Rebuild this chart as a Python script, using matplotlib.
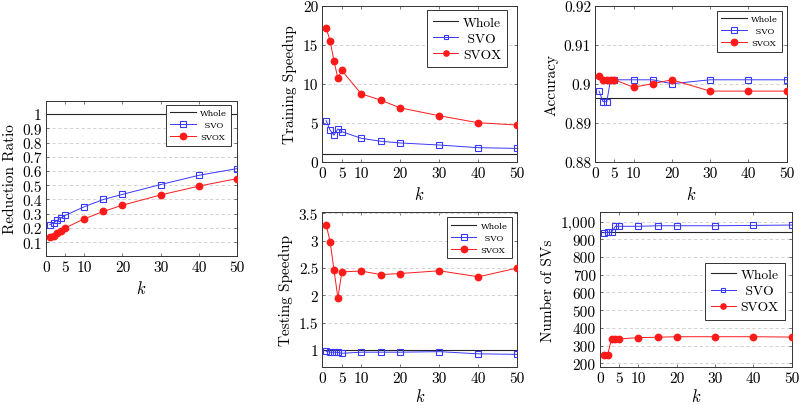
import matplotlib
matplotlib.use("Agg")
import matplotlib.pyplot as plt
from matplotlib.ticker import FixedLocator, FuncFormatter
from matplotlib.lines import Line2D

plt.rcParams['font.family'] = ['cmr10', 'DejaVu Serif']
plt.rcParams['mathtext.fontset'] = 'cm'
plt.rcParams['axes.formatter.use_mathtext'] = True
plt.rcParams['axes.unicode_minus'] = False

k = [1, 2, 3, 4, 5, 10, 15, 20, 30, 40, 50]
xticks = [0, 5, 10, 20, 30, 40, 50]
series_names = ['Whole', 'SVO', 'SVOX']

ratio_whole = 1.0
ratio_svo = [0.224, 0.236, 0.255, 0.271, 0.288, 0.349, 0.400, 0.436, 0.505, 0.570, 0.617]
ratio_svox = [0.135, 0.147, 0.166, 0.182, 0.200, 0.264, 0.316, 0.360, 0.432, 0.494, 0.547]

train_whole = 1.0
train_svo = [5.26, 4.06, 3.40, 4.20, 3.85, 3.00, 2.62, 2.40, 2.14, 1.80, 1.70]
train_svox = [17.1, 15.5, 12.9, 10.7, 11.7, 8.7, 7.9, 6.9, 5.9, 5.0, 4.7]

acc_whole = 0.8963
acc_svo = [0.8981, 0.8954, 0.8954, 0.9010, 0.9010, 0.9010, 0.9010, 0.9000, 0.9010, 0.9010, 0.9010]
acc_svox = [0.9019, 0.9010, 0.9010, 0.9010, 0.9010, 0.8991, 0.9000, 0.9010, 0.8981, 0.8981, 0.8981]

test_whole = 1.0
test_svo = [0.975, 0.96, 0.96, 0.955, 0.94, 0.96, 0.96, 0.96, 0.97, 0.93, 0.92]
test_svox = [3.29, 2.98, 2.46, 1.95, 2.43, 2.445, 2.38, 2.40, 2.45, 2.34, 2.50]

sv_whole = 940
sv_svo = [938, 940, 940, 974, 974, 974, 977, 977, 977, 979, 981]
sv_svox = [249, 249, 337, 337, 337, 345, 347, 350, 350, 350, 348]

BLUE = '#3838ff'
RED = '#ff1a1a'
WHOLE = '#262626'
TICK_FS = 11
LBL_FS = 11

fig = plt.figure(figsize=(8.0, 4.06), dpi=100)

def fmt_num(v, pos=None):
    return ('%.4f' % v).rstrip('0').rstrip('.')

def fmt_thousands(v, pos=None):
    return '{:,}'.format(int(round(v)))

def make_ax(rect, whole, svo, svox, ylim, yticks, ylabel, yfmt, small_legend,
            legend_loc, legend_anchor, xlabelpad=4):
    ax = fig.add_axes(rect)
    ax.axhline(whole, color=WHOLE, lw=0.8, zorder=2)
    ax.plot(k, svo, color=BLUE, lw=0.7, marker='s', markersize=4.3,
            markerfacecolor='none', markeredgecolor=BLUE, markeredgewidth=0.8, zorder=3)
    ax.plot(k, svox, color=RED, lw=0.7, marker='o', markersize=4.6,
            markerfacecolor=RED, markeredgecolor=RED, zorder=4)
    ax.set_xlim(0, 50)
    ax.set_ylim(*ylim)
    ax.xaxis.set_major_locator(FixedLocator(xticks))
    ax.yaxis.set_major_locator(FixedLocator(yticks))
    ax.yaxis.set_major_formatter(FuncFormatter(yfmt))
    ax.xaxis.set_major_formatter(FuncFormatter(lambda v, p: '%d' % v))
    ax.tick_params(direction='in', top=True, right=True, length=2.5, width=0.5,
                   labelsize=TICK_FS, colors='#444444', labelcolor='black', pad=3)
    ax.yaxis.grid(True, linestyle=(0, (4, 3)), color='#cccccc', lw=0.6)
    ax.set_axisbelow(True)
    for sp in ax.spines.values():
        sp.set_color('#333333')
        sp.set_linewidth(0.7)
    ax.set_xlabel('$k$', fontsize=LBL_FS + 1, labelpad=xlabelpad)
    ax.set_ylabel(ylabel, fontsize=LBL_FS, labelpad=4)
    if small_legend:
        ms_s, ms_o = 4.3, 4.6
        labels = ['Whole', ' \u2009SVO', 'SVOX']
        kw = dict(prop={'family': 'DejaVu Serif', 'size': 6.1},
                  handlelength=3.0, handletextpad=0.5, borderpad=0.5,
                  labelspacing=0.5)
    else:
        ms_s, ms_o = 3.4, 3.8
        labels = ['Whole', ' SVO', 'SVOX']
        kw = dict(fontsize=9.7, handlelength=1.85, handletextpad=0.35,
                  borderpad=0.45, labelspacing=0.28)
    handles = [
        Line2D([0], [0], color=WHOLE, lw=0.8),
        Line2D([0], [0], color=BLUE, lw=0.7, marker='s', markersize=ms_s,
               markerfacecolor='none', markeredgecolor=BLUE, markeredgewidth=0.8),
        Line2D([0], [0], color=RED, lw=0.7, marker='o', markersize=ms_o,
               markerfacecolor=RED, markeredgecolor=RED),
    ]
    leg = ax.legend(handles, labels, loc=legend_loc, bbox_to_anchor=legend_anchor,
                    borderaxespad=0, fancybox=False, framealpha=1,
                    edgecolor='#333333', **kw)
    leg.get_frame().set_linewidth(0.7)
    return ax

# Reduction Ratio (left column, centred vertically)
make_ax([0.0575, 0.3677, 0.239, 0.3818], ratio_whole, ratio_svo, ratio_svox,
        (0.005, 1.094), [0.1, 0.2, 0.3, 0.4, 0.5, 0.6, 0.7, 0.8, 0.9, 1.0],
        'Reduction Ratio', fmt_num, True, 'upper right', (0.969, 0.974))

# Training Speedup
make_ax([0.4029, 0.5993, 0.243, 0.3842], train_whole, train_svo, train_svox,
        (0, 20), [0, 5, 10, 15, 20], 'Training Speedup', fmt_num, False,
        'upper right', (0.952, 0.972))

# Accuracy
make_ax([0.7441, 0.5993, 0.2393, 0.3842], acc_whole, acc_svo, acc_svox,
        (0.88, 0.92), [0.88, 0.89, 0.90, 0.91, 0.92], 'Accuracy', fmt_num, True,
        'upper right', (0.977, 0.968))

# Testing Speedup
make_ax([0.4029, 0.0928, 0.2438, 0.3818], test_whole, test_svo, test_svox,
        (0.683, 3.52), [1, 1.5, 2, 2.5, 3, 3.5], 'Testing Speedup', fmt_num, True,
        'upper right', (0.971, 0.968), xlabelpad=1.5)

# Number of SVs
make_ax([0.75, 0.0928, 0.2396, 0.3818], sv_whole, sv_svo, sv_svox,
        (177, 1053), [200, 300, 400, 500, 600, 700, 800, 900, 1000],
        'Number of SVs', fmt_thousands, False, 'center right', (0.965, 0.492),
        xlabelpad=1.5)

fig.savefig('out.png', dpi=100)
